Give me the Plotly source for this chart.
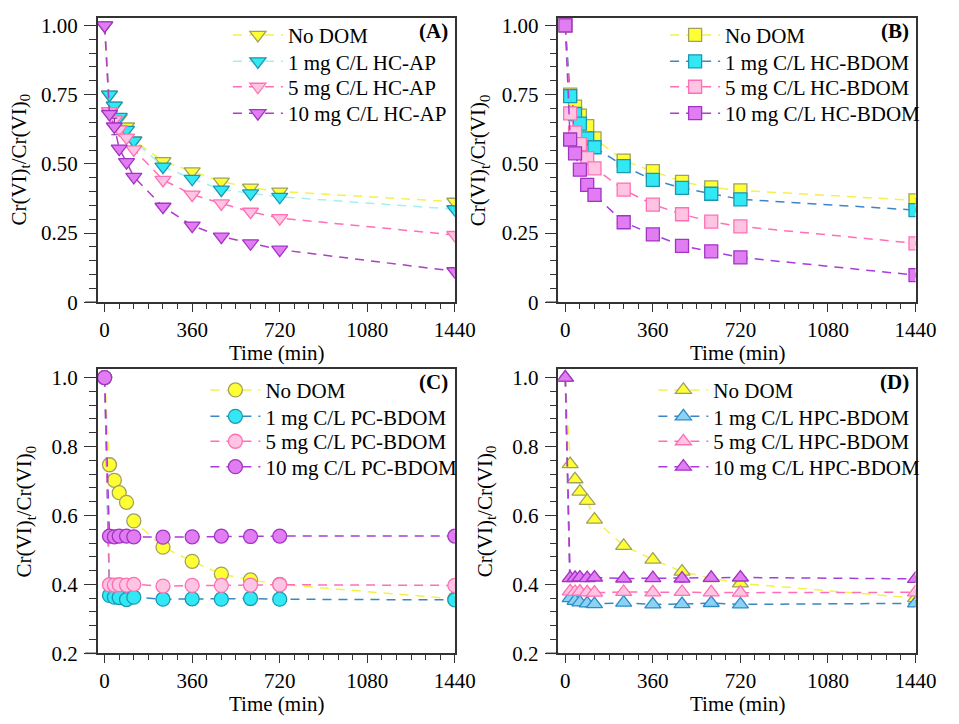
import plotly.graph_objects as go

FONT = "Liberation Serif"

TIME = [0, 20, 40, 60, 90, 120, 240, 360, 480, 600, 720, 1440]
X_TICKS = [0, 360, 720, 1080, 1440]

# Panel A (HC-AP)
a_labels = ["No DOM", "1 mg C/L HC-AP", "5 mg C/L HC-AP", "10 mg C/L HC-AP"]
a_nodom = [1.00, 0.75, 0.71, 0.665, 0.635, 0.585, 0.51, 0.473, 0.436, 0.414, 0.40, 0.363]
a_1mg = [1.00, 0.75, 0.71, 0.67, 0.623, 0.584, 0.49, 0.446, 0.407, 0.393, 0.381, 0.336]
a_5mg = [1.00, 0.69, 0.66, 0.625, 0.595, 0.552, 0.442, 0.389, 0.357, 0.327, 0.304, 0.243]
a_10mg = [1.00, 0.68, 0.635, 0.555, 0.506, 0.453, 0.345, 0.277, 0.237, 0.213, 0.19, 0.112]
a_err = [0.004, 0.008, 0.008, 0.007, 0.008, 0.007, 0.008, 0.007, 0.008, 0.008, 0.008, 0.008]
a_err10 = [0.004, 0.01, 0.03, 0.01, 0.01, 0.008, 0.006, 0.008, 0.006, 0.006, 0.006, 0.006]

# Panel B (HC-BDOM)
b_labels = ["No DOM", "1 mg C/L HC-BDOM", "5 mg C/L HC-BDOM", "10 mg C/L HC-BDOM"]
b_nodom = [1.00, 0.75, 0.707, 0.674, 0.636, 0.592, 0.512, 0.474, 0.435, 0.415, 0.404, 0.368]
b_1mg = [1.00, 0.745, 0.68, 0.645, 0.592, 0.56, 0.492, 0.442, 0.413, 0.392, 0.372, 0.333]
b_5mg = [1.00, 0.682, 0.613, 0.571, 0.521, 0.484, 0.407, 0.353, 0.318, 0.291, 0.274, 0.213]
b_10mg = [1.00, 0.588, 0.538, 0.479, 0.424, 0.388, 0.289, 0.245, 0.204, 0.184, 0.162, 0.098]
b_err = [0.004, 0.008, 0.007, 0.007, 0.008, 0.007, 0.007, 0.007, 0.007, 0.008, 0.007, 0.007]

# Panel C (PC-BDOM)
c_labels = ["No DOM", "1 mg C/L PC-BDOM", "5 mg C/L PC-BDOM", "10 mg C/L PC-BDOM"]
c_nodom = [1.00, 0.747, 0.702, 0.666, 0.638, 0.584, 0.508, 0.467, 0.430, 0.413, 0.400, 0.358]
c_1mg = [1.00, 0.368, 0.363, 0.362, 0.356, 0.363, 0.357, 0.358, 0.357, 0.359, 0.357, 0.355]
c_5mg = [1.00, 0.399, 0.398, 0.399, 0.398, 0.400, 0.395, 0.397, 0.397, 0.398, 0.399, 0.397]
c_10mg = [1.00, 0.540, 0.538, 0.540, 0.540, 0.538, 0.537, 0.538, 0.540, 0.539, 0.540, 0.540]
c_err = [0.004, 0.010, 0.010, 0.008, 0.008, 0.008, 0.008, 0.010, 0.008, 0.010, 0.008, 0.008]

# Panel D (HPC-BDOM)
d_labels = ["No DOM", "1 mg C/L HPC-BDOM", "5 mg C/L HPC-BDOM", "10 mg C/L HPC-BDOM"]
d_nodom = [1.00, 0.749, 0.705, 0.669, 0.642, 0.588, 0.512, 0.472, 0.437, 0.418, 0.403, 0.360]
d_1mg = [1.00, 0.360, 0.352, 0.348, 0.345, 0.343, 0.347, 0.342, 0.343, 0.346, 0.342, 0.345]
d_5mg = [1.00, 0.380, 0.378, 0.379, 0.377, 0.376, 0.378, 0.377, 0.378, 0.377, 0.376, 0.377]
d_10mg = [1.00, 0.418, 0.419, 0.420, 0.418, 0.420, 0.417, 0.418, 0.417, 0.419, 0.420, 0.416]
d_err = [0.004, 0.010, 0.008, 0.008, 0.010, 0.008, 0.008, 0.008, 0.010, 0.008, 0.008, 0.008]

# styles: (fill, edge, line, errcolor)
STY_A = [("#FFFF33", "#A0A060", "#F2F24A", "#8A8A30"),
         ("#33E8F5", "#1A98B0", "#9EF2F2", "#106070"),
         ("#FFC4E2", "#FF6FB5", "#FF6FB5", "#FF4FA0"),
         ("#E27CF2", "#A234C4", "#B23CC8", "#7A1A9A")]
STY_B = [("#FFFF33", "#A0A060", "#F2F24A", "#8A8A30"),
         ("#33E8F5", "#1A98B0", "#3A86C6", "#106070"),
         ("#FFC4E2", "#FF6FB5", "#FF6FB5", "#FF4FA0"),
         ("#E27CF2", "#A234C4", "#A83CDC", "#7A1A9A")]
STY_D = [("#FFFF33", "#A0A060", "#F2F24A", "#8A8A30"),
         ("#8CD2F2", "#2E8BC8", "#3A86C6", "#1A5A90"),
         ("#FFC4E2", "#FF6FB5", "#FF6FB5", "#FF4FA0"),
         ("#E27CF2", "#A234C4", "#A83CDC", "#7A1A9A")]

fig = go.Figure()

W, H = 959, 724
FS = 21
# plot-area pixel boxes: (left, right, top, bottom)
BOX = {
    "1": (100, 465, 14, 305),
    "2": (571, 936, 14, 305),
    "3": (100, 465, 373, 664),
    "4": (571, 936, 373, 664),
}
# legend item origin x and row centres (px)
LEG_X = {"1": 233, "2": 680, "3": 210, "4": 668}
LEG_ROWS = {"1": [32, 59, 85, 112], "2": [32, 59, 85, 112],
            "3": [395, 422, 447.5, 473.5], "4": [395, 422, 447.5, 473.5]}

panels = [
    ("1", a_labels, [a_nodom, a_1mg, a_5mg, a_10mg], [a_err, a_err, a_err, a_err10], STY_A, "triangle-down", 14),
    ("2", b_labels, [b_nodom, b_1mg, b_5mg, b_10mg], [b_err] * 4, STY_B, "square", 13),
    ("3", c_labels, [c_nodom, c_1mg, c_5mg, c_10mg], [c_err] * 4, STY_B, "circle", 14),
    ("4", d_labels, [d_nodom, d_1mg, d_5mg, d_10mg], [d_err] * 4, STY_D, "triangle-up", 14),
]

layout = dict(width=W, height=H, margin=dict(l=0, r=0, t=0, b=0),
              paper_bgcolor="white", plot_bgcolor="white", showlegend=True,
              font=dict(family=FONT, size=FS, color="black"))

leg_index = 0
for key, labels, series, errs, sty, sym, msize in panels:
    xa = "x" if key == "1" else "x" + key
    ya = "y" if key == "1" else "y" + key
    for i, (lab, vals, err, (fill, edge, lcol, ecol)) in enumerate(zip(labels, series, errs, sty)):
        leg_index += 1
        lname = "legend" if leg_index == 1 else "legend%d" % leg_index
        fig.add_trace(go.Scatter(
            x=TIME, y=vals, name=lab, mode="lines+markers",
            xaxis=xa, yaxis=ya, legend=lname,
            line=dict(color=lcol, width=1.5, dash="9px,7px"),
            marker=dict(symbol=sym, size=msize, color=fill,
                        line=dict(color=edge, width=1.3)),
            error_y=dict(type="data", array=err, visible=True,
                         color=ecol, thickness=1, width=3),
        ))
        layout[lname] = dict(x=LEG_X[key] / W, y=1 - LEG_ROWS[key][i] / H,
                             xanchor="left", yanchor="middle",
                             bgcolor="rgba(0,0,0,0)", borderwidth=0, itemwidth=50,
                             font=dict(family=FONT, size=FS, color="black"))

axis_line = dict(showline=True, linecolor="#333333", linewidth=1.5, mirror=True,
                 showgrid=False, zeroline=False, tickcolor="#333333", tickwidth=1.3)
tfont = dict(family=FONT, size=FS, color="black")

panel_tags = {"1": "(A)", "2": "(B)", "3": "(C)", "4": "(D)"}
ytitle_x = {"1": 20, "2": 490, "3": 26, "4": 497}

annotations = []
shapes = []
for key, (l, r, t, b) in BOX.items():
    xname = "xaxis" if key == "1" else "xaxis" + key
    yname = "yaxis" if key == "1" else "yaxis" + key
    anchor_x = "y" if key == "1" else "y" + key
    anchor_y = "x" if key == "1" else "x" + key
    layout[xname] = dict(
        domain=[l / W, r / W], anchor=anchor_x, range=[-28, 1440],
        tickmode="array", tickvals=X_TICKS, ticktext=[str(v) for v in X_TICKS],
        ticks="outside", ticklen=8, tickfont=tfont,
        minor=dict(tickmode="linear", tick0=0, dtick=60, ticks="outside",
                   ticklen=5, tickcolor="#333333", tickwidth=1.2, showgrid=False),
        **axis_line)
    if key in ("1", "2"):
        yvals = [0, 0.25, 0.5, 0.75, 1.0]
        ytext = ["0", "0.25", "0.50", "0.75", "1.00"]
        yr = [0, 1.028]
        mdt, m0 = 0.05, 0
    else:
        yvals = [0.2, 0.4, 0.6, 0.8, 1.0]
        ytext = ["0.2", "0.4", "0.6", "0.8", "1.0"]
        yr = [0.2, 1.0255]
        mdt, m0 = 0.04, 0.2
    layout[yname] = dict(
        domain=[1 - b / H, 1 - t / H], anchor=anchor_y, range=yr,
        tickmode="array", tickvals=yvals, ticktext=ytext,
        ticks="outside", ticklen=12, tickfont=tfont, ticklabelstandoff=2,
        minor=dict(tickmode="linear", tick0=m0, dtick=mdt, ticks="outside",
                   ticklen=7, tickcolor="#333333", tickwidth=1.2, showgrid=False),
        **axis_line)
    # panel tag
    annotations.append(dict(text="<b>%s</b>" % panel_tags[key], xref="paper", yref="paper",
                            x=(r - 5) / W, y=1 - (t + 14) / H, xanchor="right", yanchor="middle",
                            showarrow=False, font=dict(family=FONT, size=FS, color="black")))
    # x title
    annotations.append(dict(text="Time (min)", xref="paper", yref="paper",
                            x=(l + r) / 2 / W, y=1 - (b + 52) / H, xanchor="center", yanchor="middle",
                            showarrow=False, font=dict(family=FONT, size=FS, color="black")))
    # y title
    annotations.append(dict(text="Cr(VI)<sub>t</sub>/Cr(VI)<sub>0</sub>", xref="paper", yref="paper",
                            x=ytitle_x[key] / W, y=1 - (t + b) / 2 / H, xanchor="center", yanchor="middle",
                            textangle=-90, showarrow=False,
                            font=dict(family=FONT, size=FS, color="black")))
    # bottom axis line extending left beyond the frame
    shapes.append(dict(type="line", xref="paper", yref="paper",
                       x0=(l - 13) / W, x1=l / W, y0=1 - b / H, y1=1 - b / H,
                       line=dict(color="#333333", width=1.5)))

layout["annotations"] = annotations
layout["shapes"] = shapes
fig.update_layout(**layout)

fig.write_html("out.html", config={"displayModeBar": False},
               post_script="document.body.style.margin='0';document.body.style.overflow='hidden';")
